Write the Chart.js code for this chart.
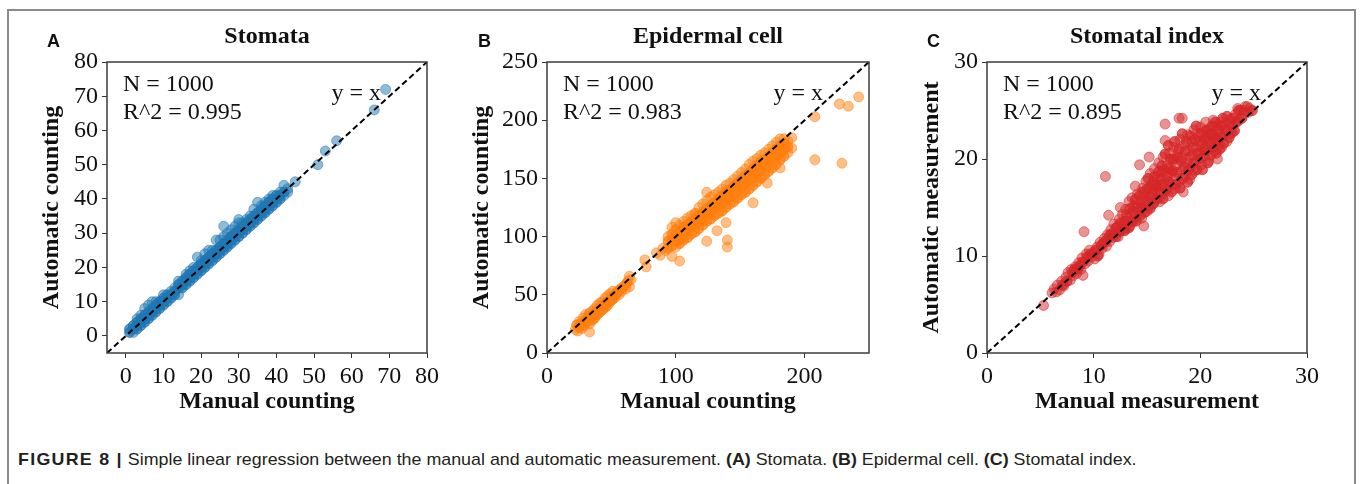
<!DOCTYPE html>
<html>
<head>
<meta charset="utf-8">
<script src="https://cdn.jsdelivr.net/npm/chart.js@4.4.0/dist/chart.umd.min.js"></script>
<style>
  body { margin:0; background:#fff; width:1362px; height:484px; overflow:hidden; position:relative; }
  #moldura { position:absolute; left:7px; top:9px; width:1345px; height:500px; border:2px solid #8a8a8a; border-bottom:none; }
  canvas { position:absolute; top:10px; }
  #legenda { position:absolute; left:18px; top:450px; font-family:'Liberation Sans', Arial, sans-serif; font-size:17px; color:#231f20; white-space:nowrap; transform-origin:0 0; }
  #legenda b.fig { letter-spacing:1.2px; }
</style>
</head>
<body>
<div id="moldura"></div>
<canvas id="graficoA" width="436" height="413" style="left:7px"></canvas>
<canvas id="graficoB" width="436" height="413" style="left:447px"></canvas>
<canvas id="graficoC" width="436" height="413" style="left:887px"></canvas>
<div id="legenda"><b class="fig">FIGURE 8 |</b> Simple linear regression between the manual and automatic measurement. <b>(A)</b> Stomata. <b>(B)</b> Epidermal cell. <b>(C)</b> Stomatal index.</div>
<script>
// valores: [manual, automático, nº de amostras sobrepostas (opcional)]
const stomataPoints = [
  [1,1,2],[1,2,2],[2,1],[2,2,3],[2,3,2],[3,2,2],[3,3,3],[3,4,3],[3,5],[4,3,2],[4,4,3],[4,5,3],[4,6],
  [5,4,2],[5,5,3],[5,6,3],[5,8],[6,5,2],[6,6,3],[6,7,3],[6,9],[7,6,2],[7,7,3],[7,8,3],[7,10],
  [8,7,2],[8,8,3],[8,9,3],[8,10],[9,8,2],[9,9,3],[9,10,3],[10,9,2],[10,10,3],[10,11,2],[10,12],
  [11,10,2],[11,11,3],[11,12,2],[12,11,2],[12,12,3],[12,13],[13,12,2],[13,13,3],[13,14],
  [14,12],[14,14,3],[14,15,2],[14,16],[15,14,2],[15,15,3],[15,16,2],[16,15,2],[16,16,4],[16,17,3],[16,18],
  [17,16,2],[17,17,4],[17,18,3],[17,19],[18,17,2],[18,18,4],[18,19,3],[18,20],[19,18,2],[19,19,4],[19,20,3],
  [19,23],[20,19,2],[20,20,4],[20,21,3],[20,22],[21,20,2],[21,21,4],[21,22,3],[21,24],[22,21,2],[22,22,4],
  [22,23,3],[22,25],[23,22,2],[23,23,4],[23,24,3],[23,25],[24,23,2],[24,24,4],[24,25,3],[24,28],
  [25,24,2],[25,25,4],[25,26,3],[25,28],[26,25,2],[26,26,4],[26,27,3],[26,29],[26,32],[27,26,2],[27,27,4],
  [27,28,3],[27,30],[28,27,2],[28,28,4],[28,29,3],[28,31],[29,28,2],[29,29,4],[29,30,3],[29,32],
  [30,29,2],[30,30,4],[30,31,3],[30,33],[30,34],[31,30,2],[31,31,4],[31,32,3],[31,33],[32,31,2],[32,32,4],
  [32,33,3],[32,34],[33,32,2],[33,33,4],[33,34,3],[33,35],[34,33,2],[34,34,4],[34,35,3],[34,37],
  [35,34,2],[35,35,4],[35,36,3],[35,39],[36,35,2],[36,36,4],[36,37,3],[36,38],[37,36,2],[37,37,4],
  [37,38,3],[37,39],[38,37,2],[38,38,4],[38,39,3],[38,40],[39,38,2],[39,39,4],[39,40,3],[39,41],
  [40,39,2],[40,40,3],[40,41,2],[41,40,2],[41,41,3],[41,42],[42,41],[42,42,2],[42,44],[43,42],[43,43],
  [45,45],[51,50],[53,54],[56,57],[66,66],[69,72]
];

const epidermalPoints = [
  [22,20],[23,24,2],[24,19],[25,22,2],[25,27],[26,25,3],[27,21],[28,26,3],[28,30],[29,24,2],[30,28,3],
  [30,33],[31,27,2],[32,30,3],[33,18],[33,25],[33,34,2],[34,31,3],[35,28,2],[35,36],[36,33,3],[37,30,2],
  [37,38],[38,35,3],[39,33,2],[39,41],[40,37,3],[41,35,2],[41,43],[42,39,3],[43,37,2],[43,44],[44,41,3],
  [45,39,2],[45,47],[46,43,3],[47,41,2],[47,49],[48,45,3],[49,44,2],[49,51],[50,47,3],[51,46,2],[51,53],
  [52,49,3],[53,48],[54,51,3],[55,53,2],[56,50],[57,55,2],[58,53],[59,56,2],[60,58],[61,55],[62,60,2],
  [63,62],[64,57],[64,66],[65,63],
  [76,80],[77,74],[85,86],[88,84],[90,90],[92,88],
  [94,90,2],[94,96,2],[94,100],[97,83],[97,92,2],[97,97,3],[97,102,2],[97,108],[100,91],[100,96,3],
  [100,101,3],[100,106,2],[100,112],[103,79],[103,94,2],[103,99,3],[103,104,3],[103,110],[106,97,2],
  [106,103,3],[106,108,3],[106,113],[109,99,2],[109,105,3],[109,110,3],[109,116],[112,102,2],[112,108,3],
  [112,113,3],[112,118],[115,104,2],[115,110,3],[115,115,3],[115,120,2],[118,107,2],[118,113,3],
  [118,118,3],[118,125],[121,110,2],[121,116,3],[121,121,3],[121,128],[124,96],[124,113,2],[124,119,3],
  [124,124,3],[124,131],[124,138],[127,115,2],[127,121,3],[127,126,3],[127,134],[132,105],[130,118,2],
  [130,124,3],[130,129,3],[130,136],[133,120,2],[133,127,3],[133,132,3],[133,138],[136,122,2],[136,129,3],
  [136,135,3],[136,141],[140,97],[140,91],[139,112],[139,125,2],[139,132,3],[139,138,3],[139,144],
  [142,128,2],[142,134,3],[142,140,3],[142,146],[145,130,2],[145,137,3],[145,143,3],[145,149],[148,133,2],
  [148,140,3],[148,146,3],[148,152],[151,136,2],[151,143,3],[151,149,3],[151,155],[154,138,2],[154,146,3],
  [154,152,3],[154,158],[157,141,2],[157,149,3],[157,155,3],[157,162],[160,129],[160,144,2],[160,151,3],
  [160,158,3],[160,165],[163,147,2],[163,154,3],[163,161,3],[163,167],[166,150,2],[166,157,3],[166,164,3],
  [166,170],[171,146],[169,153,2],[169,160,3],[169,166,3],[169,172],[172,156,2],[172,163,3],[172,169,3],
  [172,175],[175,159,2],[175,166,3],[175,172,3],[175,178],[178,162,2],[178,169,3],[178,175,3],[178,181],
  [181,159],[181,166,2],[181,172,3],[181,178,3],[181,184],[184,169,2],[184,175,3],[184,180,2],[184,184],
  [187,172],[187,177,2],[187,182],[190,176],[190,185],
  [208,203],[208,166],[227,214],[234,212],[242,220],[229,163]
];

const stomatalIndexPoints = [
  [5.3,4.9],[6.1,6.2],[6.3,6.6],[6.5,6.3],[6.6,7.0],[6.8,6.5],[7.0,7.4],[7.2,6.9],[7.4,7.8],[7.6,8.3],
  [7.8,7.5],[7.9,8.6],[8.1,8.0],[8.3,8.9],[8.4,8.2],[8.6,9.3],[8.8,8.6],[8.9,9.8],[9.0,8.0],[9.1,12.5],
  [9.2,9.2],[9.3,10.2],[9.5,9.5],[9.6,10.6],[9.8,9.9],[10.0,10.4],[10.1,9.7],[10.3,10.9],[10.5,10.2],
  [10.6,11.4],[10.8,10.8],[11.0,11.8],[11.1,18.2],[11.2,11.0],[11.3,12.2],[11.4,14.2],[11.5,11.5],
  [11.6,12.7],[11.8,11.9],[11.9,13.3],[12.0,12.3],[12.2,13.0],[12.3,12.0],[12.4,13.8],[12.5,15.0],
  [12.6,12.6],[12.7,14.3],[12.8,13.2],[13.0,12.8],[13.0,14.8],[13.2,13.6],[13.3,15.6],[13.4,13.1],
  [13.5,14.4],[13.6,16.0],[13.7,13.5],[13.8,15.2],[13.9,17.2],[14.0,14.0],[14.1,16.4],[14.2,14.7],
  [14.3,19.4],[14.4,15.6],[14.5,13.9],[14.6,17.0],[14.7,13.1],[14.7,15.2],[14.8,16.2],[14.9,17.7],
  [15.0,14.6],[15.1,15.8],[15.2,20.2],[15.2,17.0],[15.3,18.5],[15.4,15.2],[15.5,16.4],[15.6,17.6],
  [15.7,19.0],[15.8,15.8],[15.9,16.9],[16.0,18.2],[16.1,19.6],[16.2,15.6],[16.3,17.3],[16.4,18.7],
  [16.5,20.2],[16.6,16.5],[16.7,23.6],[16.7,21.9],[16.8,17.8],[16.9,19.3],[17.0,16.2],[17.1,20.6],
  [17.2,17.3],[17.3,18.5],[17.4,19.8],[17.5,21.2],[17.6,16.9],[17.7,18.0],[17.8,19.4],[17.9,20.8],
  [18.0,24.2],[18.3,24.2],[18.0,17.6],[18.1,22.0],[18.2,18.8],[18.3,20.1],[18.4,16.6],[18.5,21.5],
  [18.6,18.3],[18.7,19.6],[18.8,22.5],[18.9,20.8],[19.0,17.9],[19.1,19.2],[19.2,21.8],[19.3,20.4],
  [19.4,23.0],[19.5,18.8],[19.6,21.2],[19.7,19.9],[19.8,22.4],[19.9,20.6],[20.0,23.3],[20.1,19.4],
  [20.2,21.6],[20.3,22.8],[20.4,20.3],[20.5,23.8],[20.6,21.2],[20.7,22.2],[20.8,19.8],[20.9,23.0],
  [21.0,21.6],[21.1,22.6],[21.2,24.0],[21.3,20.8],[21.4,22.0],[21.5,23.4],[21.6,20.0],[21.7,21.4],
  [21.8,22.6],[21.9,23.8],[22.0,21.2],[22.2,22.4],[22.3,23.6],[22.5,21.8],[22.6,22.9],[22.8,24.0],
  [22.9,22.6],[23.0,22.8],[23.1,23.6],[23.3,24.6],[23.5,25.2],[23.6,24.0],[23.8,25.0],[24.0,24.6],
  [24.2,25.4],[24.5,24.8],[24.8,25.0],
  // núcleo denso da nuvem
  [7.1,7.0,2],[7.5,7.4,2],[8.0,8.3,2],[8.2,8.6,2],[8.5,8.7,2],[8.7,9.0,2],[9.0,9.4,2],[9.4,9.9,2],
  [9.7,10.2,2],[10.2,10.6,2],[10.4,10.0,2],[10.7,11.1,2],[10.9,11.3,2],[11.2,11.6,2],[11.5,12.1,2],
  [11.7,12.3,2],[12.1,12.0,2],[12.1,12.9,2],[12.4,12.5,2],[12.5,13.4,2],[12.9,12.6,2],[12.9,13.6,2],
  [13.1,14.2,2],[13.3,12.9,2],[13.4,14.9,2],[13.6,13.6,2],[13.7,14.6,2],[13.9,15.8,2],[14.0,13.6,2],
  [14.1,15.1,2],[14.3,16.2,2],[14.4,14.2,2],[14.5,15.0,2],[14.6,16.6,2],[14.8,14.5,2],[14.9,15.6,2],
  [15.0,16.9,2],[15.1,18.0,2],[15.3,14.9,2],[15.3,16.1,2],[15.4,17.3,2],[15.6,15.4,2],[15.6,16.8,2],
  [15.7,18.2,2],[15.8,17.3,2],[16.0,15.9,2],[16.0,17.2,2],[16.1,18.7,2],[16.2,16.6,2],[16.3,18.0,2],
  [16.4,19.3,2],[16.5,15.9,2],[16.5,17.4,2],[16.6,18.9,2],[16.7,20.5,2],[16.8,16.8,2],[16.9,18.2,2],
  [17.0,19.0,2],[17.0,21.4,2],[17.1,17.6,2],[17.2,20.0,2],[17.3,16.6,2],[17.4,18.8,2],[17.5,20.0,2],
  [17.6,21.8,2],[17.7,17.4,2],[17.8,18.6,2],[17.9,20.2,2],[18.0,21.0,2],[18.1,17.0,2],[18.2,19.8,2],
  [18.3,22.6,2],[18.4,18.0,2],[18.5,19.2,2],[18.6,20.8,2],[18.7,21.8,2],[18.8,17.6,2],[18.9,18.9,2],
  [19.0,20.2,2],[19.1,22.4,2],[19.2,18.4,2],[19.3,21.2,2],[19.4,19.6,2],[19.5,22.0,2],[19.6,23.4,2],
  [19.7,18.9,2],[19.8,20.6,2],[19.9,21.8,2],[20.0,20.0,2],[20.1,22.6,2],[20.2,18.9,2],[20.3,21.0,2],
  [20.4,22.0,2],[20.5,20.8,2],[20.6,23.0,2],[20.7,19.6,2],[20.8,21.8,2],[20.9,22.6,2],[21.0,20.4,2],
  [21.1,23.4,2],[21.2,21.2,2],[21.3,22.4,2],[21.4,23.8,2],[21.5,20.6,2],[21.6,22.0,2],[21.7,23.0,2],
  [21.8,21.0,2],[21.9,22.2,2],[22.0,23.4,2],[22.1,24.2,2],[22.2,21.6,2],[22.4,23.0,2],[22.5,24.4,2],
  [22.7,22.2,2],[22.8,23.4,2],[23.0,24.2,2],[23.2,22.9,2],[23.4,23.8,2],[23.6,25.0,2],[23.9,24.2,2],
  [24.1,25.0],[24.4,25.4],[24.6,25.2],[24.9,25.0]
];

// ticks dos eixos
const stomataTicks = [0, 10, 20, 30, 40, 50, 60, 70, 80];
const epidermalTicksX = [0, 100, 200];
const epidermalTicksY = [0, 50, 100, 150, 200, 250];
const indexTicks = [0, 10, 20, 30];

const serif = "'Liberation Serif', 'Times New Roman', serif";

// plugin que escreve letra, titulo, N, R^2, y = x e a moldura do gráfico
const textosPainel = {
  id: 'textosPainel',
  afterDatasetsDraw(chart, args, opts) {
    const {ctx, chartArea: a} = chart;
    ctx.save();
    ctx.strokeStyle = '#3c3c3c';
    ctx.lineWidth = 1.5;
    ctx.strokeRect(a.left, a.top, a.right - a.left, a.bottom - a.top);

    ctx.fillStyle = '#111';
    ctx.textBaseline = 'alphabetic';
    ctx.font = "bold 18px 'Liberation Sans', Arial, sans-serif";
    ctx.textAlign = 'left';
    ctx.fillText(opts.letra, a.left + opts.dxLetra, a.top - 15);

    ctx.font = 'bold 24px ' + serif;
    ctx.textAlign = 'center';
    ctx.fillText(opts.titulo, (a.left + a.right) / 2, a.top - 19);

    ctx.font = '24px ' + serif;
    ctx.textAlign = 'left';
    ctx.fillText('N = ' + opts.n, a.left + 16, a.top + 29);
    ctx.fillText('R^2 = ' + opts.r2, a.left + 16, a.top + 57);
    ctx.textAlign = 'right';
    ctx.fillText('y = x', a.right - 46, a.top + 38);
    ctx.restore();
  }
};

function eixo(min, max, ticks, titulo, horizontal, padTitulo) {
  return {
    type: 'linear',
    min: min,
    max: max,
    afterBuildTicks: (s) => { s.ticks = ticks.map(v => ({value: v})); },
    afterFit: (s) => { if (horizontal) s.height = 70; else s.width = 100; },
    border: {display: false},
    grid: {drawOnChartArea: false, drawTicks: true, tickLength: 5, color: '#333'},
    ticks: {autoSkip: false, maxRotation: 0, padding: 4, color: '#111', font: {family: serif, size: 24}},
    title: {
      display: true, text: titulo, color: '#111',
      font: {family: serif, size: 24, weight: 'bold'},
      padding: horizontal ? {top: 0, bottom: 6.6} : {top: padTitulo, bottom: 0}
    }
  };
}

// cor com opacidade acumulada conforme o nº de pontos sobrepostos
function corPonto(rgb, n) {
  const alfa = 1 - Math.pow(0.5, n || 1);
  return 'rgba(' + rgb + ',' + alfa.toFixed(3) + ')';
}

function criarPainel(idCanvas, pontos, rgb, min, max, ticksX, ticksY, tituloX, tituloY, textos) {
  const ctx = document.getElementById(idCanvas).getContext('2d');
  const cores = pontos.map(p => corPonto(rgb, p[2]));
  return new Chart(ctx, {
    type: 'scatter',
    data: {
      datasets: [{
        // linha y = x tracejada
        data: [{x: min, y: min}, {x: max, y: max}],
        showLine: true,
        borderColor: '#000',
        borderWidth: 2,
        borderDash: [6, 3.5],
        pointRadius: 0,
        order: 0
      }, {
        data: pontos.map(p => ({x: p[0], y: p[1]})),
        backgroundColor: cores,
        borderColor: cores,
        borderWidth: 1,
        pointRadius: 5,
        order: 1
      }]
    },
    options: {
      responsive: false,
      animation: false,
      layout: {padding: {top: 52, right: 14, bottom: 0, left: 0}},
      plugins: {legend: {display: false}, tooltip: {enabled: false}, textosPainel: textos},
      scales: {
        x: eixo(min, max, ticksX, tituloX, true, 0),
        y: eixo(min, max, ticksY, tituloY, false, textos.padTituloY)
      }
    },
    plugins: [textosPainel]
  });
}

criarPainel('graficoA', stomataPoints, '31,119,180', -5, 80, stomataTicks, stomataTicks,
  'Manual counting', 'Automatic counting',
  {letra: 'A', titulo: 'Stomata', n: 1000, r2: '0.995', dxLetra: -60, padTituloY: 30.6});
criarPainel('graficoB', epidermalPoints, '255,127,14', 0, 250, epidermalTicksX, epidermalTicksY,
  'Manual counting', 'Automatic counting',
  {letra: 'B', titulo: 'Epidermal cell', n: 1000, r2: '0.983', dxLetra: -69, padTituloY: 20.3});
criarPainel('graficoC', stomatalIndexPoints, '214,39,40', 0, 30, indexTicks, indexTicks,
  'Manual measurement', 'Automatic measurement',
  {letra: 'C', titulo: 'Stomatal index', n: 1000, r2: '0.895', dxLetra: -60, padTituloY: 30.3});

// ajusta a largura da legenda da figura
const legenda = document.getElementById('legenda');
legenda.style.transform = 'scaleX(' + (1119 / legenda.offsetWidth) + ')';
</script>
</body>
</html>
